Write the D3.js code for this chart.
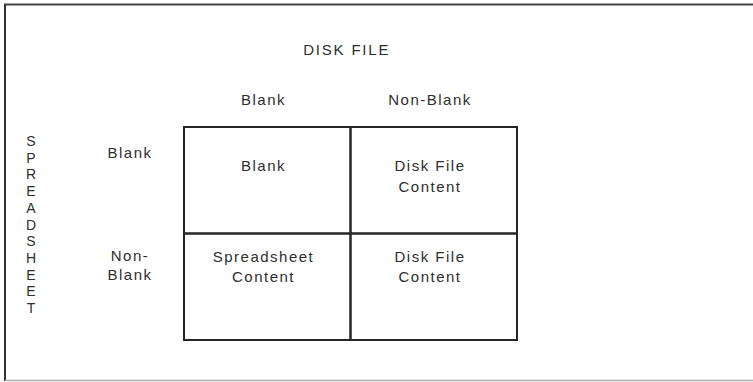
<!DOCTYPE html>
<html><head><meta charset="utf-8">
<script src="https://cdn.jsdelivr.net/npm/d3@7"></script>
<style>
html,body{margin:0;padding:0;background:#fff;}
svg text{font-family:"Liberation Sans",Arial,Helvetica,sans-serif;fill:#2e2e2e;}
</style></head>
<body><svg id="c" width="753" height="382"></svg>
<script>
const title = "DISK FILE";
const sideTitle = "SPREADSHEET";
const columns = ["Blank", "Non-Blank"];
const columnLabels = [["Blank"], ["Non-Blank"]];
const rows = ["Blank", "Non-Blank"];
const rowLabels = [["Blank"], ["Non-", "Blank"]];
const cellLabels = [
  [["Blank"], ["Disk File", "Content"]],
  [["Spreadsheet", "Content"], ["Disk File", "Content"]]
];

const FS = 15, LS = 1.5, LINE = 20.5;
const svg = d3.select("#c");
const x = d3.scaleBand().domain(columns).range([184, 517]);
const y = d3.scaleBand().domain(rows).range([127, 340]);
const rowTextOffset = [44, 28];   // baseline offset of first cell text line within each row
const rowLabelOffset = [31, 27.5];
const dx = -3 - LS / 2;           // small optical shift of centred text

// outer frame
svg.append("line").attr("x1",4).attr("x2",753).attr("y1",4.5).attr("y2",4.5).attr("stroke","#444").attr("stroke-width",2);
svg.append("line").attr("x1",5).attr("x2",5).attr("y1",4).attr("y2",381).attr("stroke","#333").attr("stroke-width",2);
svg.append("line").attr("x1",5).attr("x2",753).attr("y1",380.5).attr("y2",380.5).attr("stroke","#b0b0b0").attr("stroke-width",1.5);

function label(sel, cx, y0, lines, lh) {
  const t = sel.append("text").attr("text-anchor","middle").attr("font-size",FS).attr("letter-spacing",LS);
  lines.forEach((l,k)=> t.append("tspan").attr("x", cx).attr("y", y0 + k*(lh||LINE)).text(l));
  return t;
}

// title
label(svg, x.range()[0] + (x.range()[1]-x.range()[0])/2 + dx, 55, [title]).attr("letter-spacing", 1.8);

// column headers
columns.forEach((c,i)=> label(svg, x(c)+x.bandwidth()/2 + dx, 105, columnLabels[i]));

// row headers
rows.forEach((r,i)=> label(svg, 130, y(r) + rowLabelOffset[i], rowLabels[i], 19));

// vertical side title
const chars = sideTitle.split("");
const sy = d3.scaleLinear().domain([0, chars.length-1]).range([146, 313]);
svg.append("g").selectAll("text").data(chars).join("text")
  .attr("x",31).attr("y",(d,i)=>sy(i)).attr("text-anchor","middle").attr("font-size",14).text(d=>d);

// grid cells
const cells = [];
rows.forEach((r,ri)=>columns.forEach((c,ci)=>cells.push({r,ri,c,lines:cellLabels[ri][ci]})));
svg.append("g").selectAll("rect").data(cells).join("rect")
  .attr("x",d=>x(d.c)).attr("y",d=>y(d.r)).attr("width",x.bandwidth()).attr("height",y.bandwidth())
  .attr("fill","none").attr("stroke","#262626").attr("stroke-width",2);

const g = svg.append("g");
cells.forEach(d => label(g, x(d.c)+x.bandwidth()/2 + dx, y(d.r) + rowTextOffset[d.ri], d.lines));
</script></body></html>
